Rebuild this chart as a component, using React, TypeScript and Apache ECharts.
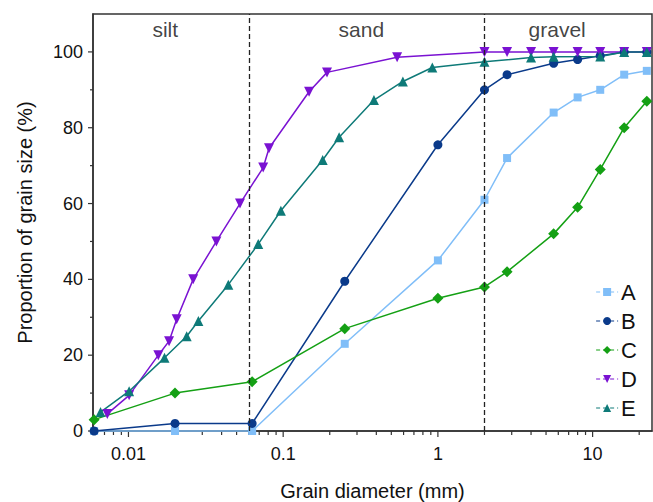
import React, { useEffect, useRef } from "react";
import * as echarts from "echarts";

const sieveSizes = [0.006, 0.02, 0.063, 0.25, 1, 2, 2.8, 5.6, 8, 11.2, 16, 22.4];
const valuesA = [0, 0, 0, 23, 45, 61, 72, 84, 88, 90, 94, 95];
const valuesB = [0, 2, 2, 39.5, 75.5, 90, 94, 97, 98, 99, 100, 100];
const valuesC = [3, 10, 13, 27, 35, 38, 42, 52, 59, 69, 80, 87];

const sizesD = [0.0073, 0.0101, 0.0156, 0.0183, 0.0205, 0.0262, 0.037, 0.0526, 0.0743, 0.081, 0.147, 0.192, 0.545, 2, 2.8, 4, 5.6, 8, 11.2, 16, 22.4];
const valuesD = [4.5, 9.4, 20, 23.7, 29.5, 40, 50, 60, 69.5, 74.6, 89.5, 94.6, 98.6, 100, 100, 100, 100, 100, 100, 100, 100];

const sizesE = [0.0066, 0.0101, 0.0171, 0.0238, 0.0283, 0.0442, 0.069, 0.0966, 0.18, 0.23, 0.386, 0.594, 0.92, 2, 4, 5.6, 11.2, 16, 22.4];
const valuesE = [5, 10.5, 19.3, 25, 29, 38.6, 49.3, 58.1, 71.5, 77.5, 87.3, 92.2, 95.9, 97.4, 98.5, 98.7, 98.8, 100, 100];

const boundaries = [0.06, 2];
const regionNames = ["silt", "sand", "gravel"];
const regionX = [0.0173, 0.32, 5.9];
const regionY = 106;

const xMin = 0.0059;
const xMax = 24.2;
const yMin = 0;
const yMax = 110;
const yTickValues = [0, 10, 20, 30, 40, 50, 60, 70, 80, 90, 100];
const xMajorTicks = [0.01, 0.1, 1, 10];
const xMinorMultipliers = [2, 3, 4, 5, 6, 7, 8, 9];
const xDecades = [0.001, 0.01, 0.1, 1, 10];

const FONT = "'Liberation Sans', Arial, sans-serif";
const AXIS_COLOR = "#333";

function zip(xs: number[], ys: number[]) {
  return xs.map((x, i) => [x, ys[i]]);
}

export default function App() {
  const ref = useRef<HTMLDivElement>(null);
  useEffect(() => {
    document.body.style.margin = "0";
    if (!ref.current) return;
    const chart = echarts.init(ref.current, null, { renderer: "svg" });

    const xTicks: number[][] = [];
    xMajorTicks.forEach((v) => xTicks.push([v, 6]));
    xDecades.forEach((d) =>
      xMinorMultipliers.forEach((m) => {
        const v = d * m;
        if (v > xMin && v < xMax) xTicks.push([v, 4]);
      })
    );
    const yTicks = yTickValues.map((v) => [v, v % 20 === 0 ? 5 : 3]);

    const mk = (
      name: string,
      data: number[][],
      color: string,
      symbol: string,
      size: number,
      rotate = 0
    ) => ({
      name,
      type: "line",
      data,
      symbol,
      symbolSize: size,
      symbolRotate: rotate,
      showAllSymbol: true,
      clip: false,
      lineStyle: { color, width: 1.5 },
      itemStyle: { color },
      emphasis: { disabled: true },
    });

    chart.setOption({
      animation: false,
      grid: {
        left: 93,
        right: 1,
        top: 14,
        bottom: 71,
        outerBoundsMode: "none",
        containLabel: false,
        show: true,
        borderColor: AXIS_COLOR,
        borderWidth: 1.5,
        backgroundColor: "transparent",
      },
      legend: {
        data: ["A", "B", "C", "D", "E"],
        orient: "vertical",
        right: 11,
        top: 276,
        itemWidth: 22,
        itemHeight: 10,
        itemGap: 7,
        textStyle: { fontFamily: FONT, fontSize: 22, color: "#111", padding: [0, 0, 0, -2] },
        lineStyle: { type: [4, 3], width: 1.2 },
      },
      xAxis: {
        type: "log",
        logBase: 10,
        min: xMin,
        max: xMax,
        name: "Grain diameter (mm)",
        nameLocation: "middle",
        nameGap: 50,
        nameTextStyle: { fontFamily: FONT, fontSize: 20, color: "#111" },
        axisLine: { show: true, lineStyle: { color: AXIS_COLOR, width: 1.5 } },
        axisTick: { show: false },
        splitLine: { show: false },
        axisLabel: {
          fontFamily: FONT,
          fontSize: 18,
          color: "#111",
          margin: 14,
          formatter: (v: number) => {
            const l = Math.log10(v);
            if (Math.abs(l - Math.round(l)) > 1e-6) return "";
            return String(Number(Math.pow(10, Math.round(l)).toPrecision(1)));
          },
        },
      },
      yAxis: {
        type: "value",
        min: yMin,
        max: yMax,
        interval: 20,
        name: "Proportion of grain size (%)",
        nameLocation: "middle",
        nameGap: 58,
        nameTextStyle: { fontFamily: FONT, fontSize: 20, color: "#111" },
        axisLine: { show: true, lineStyle: { color: AXIS_COLOR, width: 1.5 } },
        axisTick: { show: false },
        splitLine: { show: false },
        axisLabel: {
          fontFamily: FONT,
          fontSize: 18,
          color: "#111",
          margin: 10,
          formatter: (v: number) => (v <= 100 ? String(v) : ""),
        },
      },
      series: [
        mk("A", zip(sieveSizes, valuesA), "#80BEF8", "rect", 8),
        mk("B", zip(sieveSizes, valuesB), "#0A3A8A", "circle", 9),
        mk("C", zip(sieveSizes, valuesC), "#14A014", "diamond", 11),
        mk("D", zip(sizesD, valuesD), "#7A12D2", "triangle", 10, 180),
        {
          ...mk("E", zip(sizesE, valuesE), "#0E7A78", "triangle", 10),
          markLine: {
            silent: true,
            symbol: "none",
            label: { show: false },
            lineStyle: { color: "#222", type: [5, 3], width: 1.3 },
            data: boundaries.map((b) => ({ xAxis: b })),
          },
        },
        {
          type: "scatter",
          name: "regions",
          data: regionNames.map((n, i) => ({ name: n, value: [regionX[i], regionY] })),
          symbolSize: 1,
          itemStyle: { color: "rgba(0,0,0,0)" },
          silent: true,
          label: {
            show: true,
            position: "inside",
            formatter: (p: any) => p.name,
            fontFamily: FONT,
            fontSize: 21,
            color: "#111",
          },
        },
        {
          type: "custom",
          name: "xticks",
          silent: true,
          clip: false,
          data: xTicks,
          renderItem: (params: any, api: any) => {
            const p = api.coord([api.value(0), yMin]);
            const len = api.value(1);
            return {
              type: "line",
              shape: { x1: p[0], y1: p[1], x2: p[0], y2: p[1] + len },
              style: { stroke: AXIS_COLOR, lineWidth: 1.2 },
            };
          },
        },
        {
          type: "custom",
          name: "yticks",
          silent: true,
          clip: false,
          data: yTicks.map((t) => [xMin, t[0], t[1]]),
          renderItem: (params: any, api: any) => {
            const p = api.coord([xMin, api.value(1)]);
            const len = api.value(2);
            return {
              type: "line",
              shape: { x1: p[0], y1: p[1], x2: p[0] - len, y2: p[1] },
              style: { stroke: AXIS_COLOR, lineWidth: 1.2 },
            };
          },
        },
      ],
    });
    return () => chart.dispose();
  }, []);
  return <div ref={ref} style={{ width: 653, height: 502 }} />;
}
